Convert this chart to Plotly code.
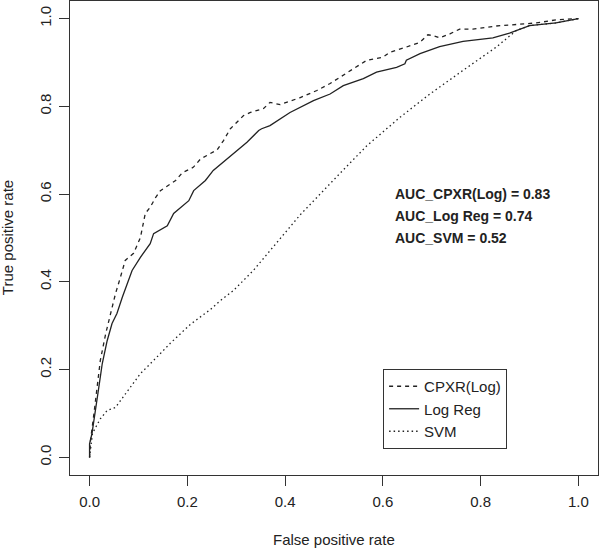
import plotly.graph_objects as go

# ---- data ----
cpxr_fpr = [0, 0.002, 0.009, 0.016, 0.022, 0.033, 0.043, 0.053, 0.063, 0.073, 0.09, 0.104,
            0.114, 0.124, 0.135, 0.145, 0.176, 0.19, 0.212, 0.227, 0.261, 0.274, 0.288,
            0.315, 0.329, 0.356, 0.369, 0.39, 0.431, 0.465, 0.492, 0.533, 0.56, 0.567,
            0.6, 0.614, 0.648, 0.676, 0.692, 0.703, 0.716, 0.737, 0.757, 0.784, 0.832,
            0.873, 0.914, 0.954, 1.0]
cpxr_tpr = [0, 0.039, 0.10, 0.16, 0.221, 0.282, 0.328, 0.373, 0.41, 0.449, 0.465, 0.501,
            0.556, 0.57, 0.592, 0.608, 0.631, 0.649, 0.661, 0.68, 0.701, 0.722, 0.749,
            0.779, 0.786, 0.795, 0.809, 0.804, 0.82, 0.836, 0.852, 0.882, 0.901, 0.905,
            0.912, 0.923, 0.935, 0.946, 0.963, 0.961, 0.956, 0.965, 0.976, 0.976, 0.983,
            0.987, 0.99, 0.997, 1.0]

logreg_fpr = [0, 0, 0.005, 0.012, 0.019, 0.026, 0.036, 0.046, 0.056, 0.067, 0.077, 0.087,
              0.104, 0.124, 0.131, 0.159, 0.172, 0.186, 0.203, 0.213, 0.237, 0.253, 0.294,
              0.322, 0.346, 0.352, 0.369, 0.41, 0.458, 0.492, 0.519, 0.56, 0.587, 0.628,
              0.645, 0.648, 0.676, 0.716, 0.764, 0.825, 0.859, 0.9, 0.954, 1.0]
logreg_tpr = [0, 0.031, 0.055, 0.114, 0.16, 0.214, 0.266, 0.305, 0.328, 0.365, 0.396, 0.426,
              0.456, 0.487, 0.51, 0.528, 0.556, 0.57, 0.585, 0.608, 0.631, 0.654, 0.692,
              0.718, 0.745, 0.749, 0.756, 0.786, 0.813, 0.828, 0.847, 0.863, 0.878, 0.889,
              0.897, 0.905, 0.92, 0.936, 0.948, 0.956, 0.967, 0.984, 0.99, 1.0]

svm_fpr = [0, 0.006, 0.022, 0.036, 0.053, 0.077, 0.104, 0.131, 0.165, 0.206, 0.247, 0.267,
           0.294, 0.335, 0.431, 0.512, 0.567, 0.635, 0.696, 0.764, 0.832, 0.873, 0.9, 0.954, 1.0]
svm_tpr = [0, 0.055, 0.088, 0.107, 0.114, 0.15, 0.191, 0.221, 0.26, 0.303, 0.337, 0.357,
           0.38, 0.426, 0.553, 0.647, 0.71, 0.775, 0.828, 0.882, 0.935, 0.973, 0.984, 0.99, 1.0]

series_names = ["CPXR(Log)", "Log Reg", "SVM"]
auc_labels = ["AUC_CPXR(Log) = 0.83", "AUC_Log Reg = 0.74", "AUC_SVM = 0.52"]
auc_label_y = [0.6, 0.55, 0.5]
tick_vals = [0.0, 0.2, 0.4, 0.6, 0.8, 1.0]
tick_text = ["0.0", "0.2", "0.4", "0.6", "0.8", "1.0"]

FONT = "Liberation Sans, Arial, sans-serif"
INK = "#222222"

fig = go.Figure()
styles = ["4px,4px", "solid", "1.5px,3px"]
for name, xs, ys, dash in zip(series_names,
                              [cpxr_fpr, logreg_fpr, svm_fpr],
                              [cpxr_tpr, logreg_tpr, svm_tpr],
                              styles):
    fig.add_trace(go.Scatter(x=xs, y=ys, mode="lines", name=name,
                             line=dict(color=INK, width=1.3, dash=dash)))

for txt, yy in zip(auc_labels, auc_label_y):
    fig.add_annotation(x=0.62, y=yy, xref="x", yref="y", text="<b>%s</b>" % txt,
                       showarrow=False, xanchor="left", yanchor="middle",
                       font=dict(family=FONT, size=14, color=INK))

# axis titles
fig.add_annotation(x=0.5, y=-0.137, xref="paper", yref="paper", text="False positive rate",
                   showarrow=False, xanchor="center", yanchor="middle",
                   font=dict(family=FONT, size=15, color=INK))
fig.add_annotation(x=-0.119, y=0.5, xref="paper", yref="paper", text="True positive rate",
                   showarrow=False, xanchor="center", yanchor="middle", textangle=-90,
                   font=dict(family=FONT, size=15, color=INK))

axis_common = dict(showgrid=False, zeroline=False, showline=True, linecolor="#333333",
                   linewidth=1.2, mirror=True, ticks="outside", ticklen=10, tickwidth=1.2,
                   tickcolor="#333333", tickvals=tick_vals, ticktext=tick_text,
                   tickfont=dict(family=FONT, size=15, color=INK), range=[-0.04, 1.04],
                   fixedrange=True)

fig.update_layout(
    width=600, height=548,
    margin=dict(l=70, r=2, t=1, b=73),
    paper_bgcolor="white", plot_bgcolor="white",
    xaxis=dict(**axis_common, ticklabelstandoff=3),
    yaxis=dict(**axis_common, tickangle=-90, ticklabelstandoff=2),
    showlegend=True,
    legend=dict(x=0.593, y=0.2236, xanchor="left", yanchor="top",
                bordercolor="#333333", borderwidth=1, bgcolor="white",
                font=dict(family=FONT, size=15, color=INK), itemwidth=30,
                tracegroupgap=0),
)

fig.write_html("out.html", config={"displayModeBar": False, "staticPlot": False},
               post_script="document.body.style.margin='0';document.body.style.padding='0';"
                           "document.body.style.overflow='hidden';")
